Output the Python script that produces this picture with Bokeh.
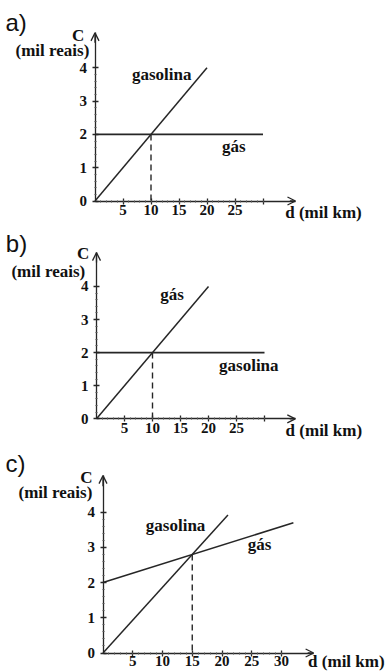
from bokeh.plotting import figure
from bokeh.models import LinearAxis, FixedTicker, Arrow, OpenHead, Range1d, Label
from bokeh.layouts import column
from bokeh.embed import file_html
from bokeh.resources import INLINE

# ---------------- data ----------------
y_ticks = [0, 1, 2, 3, 4]
x_ticks = [5, 10, 15, 20, 25, 30]
x_labels_ab = {30: ""}
x_labels_c = {}

# panel a)
a_gasolina_d = [0, 20]
a_gasolina_c = [0, 4]
a_gas_d = [0, 30]
a_gas_c = [2, 2]
a_cross_d, a_cross_c = 10, 2

# panel b)
b_gas_d = [0, 20]
b_gas_c = [0, 4]
b_gasolina_d = [0, 30]
b_gasolina_c = [2, 2]
b_cross_d, b_cross_c = 10, 2

# panel c)
c_gasolina_d = [0, 21]
c_gasolina_c = [0, 3.92]
c_gas_d = [0, 32]
c_gas_c = [2, 3.7]
c_cross_d, c_cross_c = 15, 2.8

# ---------------- styling ----------------
W = 387
LINE = "#262626"
TXT = "#111111"
SERIF = "Liberation Serif"


def make_panel(h, ox, oy, sx, sy):
    p = figure(width=W, height=h,
               x_range=Range1d(-ox / sx, (W - ox) / sx),
               y_range=Range1d(-(h - oy) / sy, oy / sy),
               x_axis_type=None, y_axis_type=None,
               toolbar_location=None, output_backend="svg",
               min_border=0)
    p.outline_line_color = None
    p.background_fill_color = "white"
    p.border_fill_color = "white"
    return p


def style_axis(ax):
    ax.axis_line_color = LINE
    ax.axis_line_width = 1.3
    ax.major_tick_line_color = LINE
    ax.major_tick_line_width = 1.3
    ax.major_tick_in = 3
    ax.major_tick_out = 3
    ax.minor_tick_line_color = "#555555"
    ax.minor_tick_line_width = 1
    ax.minor_tick_in = 1
    ax.minor_tick_out = 1
    ax.major_label_text_font = SERIF
    ax.major_label_text_font_style = "bold"
    ax.major_label_text_font_size = "15px"
    ax.major_label_text_color = TXT


def add_axes(p, xlabels, xmax, ymax, xstandoff):
    xa = LinearAxis(fixed_location=0, bounds=(0, xmax),
                    ticker=FixedTicker(ticks=x_ticks,
                                       minor_ticks=list(range(1, 31))))
    xa.major_label_overrides = xlabels
    style_axis(xa)
    xa.major_label_standoff = xstandoff
    p.add_layout(xa, "below")

    ya = LinearAxis(fixed_location=0, bounds=(0, ymax),
                    ticker=FixedTicker(ticks=y_ticks,
                                       minor_ticks=[i / 5 for i in range(1, 20) if i % 5]))
    style_axis(ya)
    ya.major_label_standoff = 5
    p.add_layout(ya, "left")

    p.add_layout(Arrow(end=OpenHead(size=8, line_width=1.3, line_color=LINE),
                       x_start=xmax - 1, y_start=0, x_end=xmax, y_end=0,
                       line_width=1.3, line_color=LINE))
    p.add_layout(Arrow(end=OpenHead(size=8, line_width=1.3, line_color=LINE),
                       x_start=0, y_start=ymax - 0.3, x_end=0, y_end=ymax,
                       line_width=1.3, line_color=LINE))


def txt(p, x, y, s, size="17px", font=SERIF, style="bold", align="center"):
    p.add_layout(Label(x=x, y=y, text=s, text_font=font, text_font_style=style,
                       text_font_size=size, text_color=TXT,
                       text_align=align, text_baseline="middle"))


def draw_lines(p, d1, c1, d2, c2, cd, cc):
    p.line(d1, c1, line_color=LINE, line_width=1.5)
    p.line(d2, c2, line_color=LINE, line_width=1.6)
    p.line([cd, cd], [cc, 0], line_color=LINE, line_width=1.4, line_dash="6 4")


# ---------- a) ----------
pa = make_panel(225, 94.5, 200.5, 5.6, 33.3)
add_axes(pa, x_labels_ab, 35.8, 5.05, 1)
draw_lines(pa, a_gasolina_d, a_gasolina_c, a_gas_d, a_gas_c, a_cross_d, a_cross_c)
txt(pa, -16.0, 5.36, "a)", size="24px", font="Liberation Sans", style="normal", align="left")
txt(pa, -3.0, 4.97, "C")
txt(pa, -7.6, 4.52, "(mil reais)")
txt(pa, 11.9, 3.81, "gasolina")
txt(pa, 24.8, 1.65, "gás")
txt(pa, 40.8, -0.35, "d (mil km)")

# ---------- b) ----------
pb = make_panel(215, 96, 193.3, 5.6, 33.1)
add_axes(pb, x_labels_ab, 35.5, 5.02, 1)
draw_lines(pb, b_gas_d, b_gas_c, b_gasolina_d, b_gasolina_c, b_cross_d, b_cross_c)
txt(pb, -16.2, 5.3, "b)", size="24px", font="Liberation Sans", style="normal", align="left")
txt(pb, -2.4, 4.99, "C")
txt(pb, -8.6, 4.45, "(mil reais)")
txt(pb, 13.5, 3.75, "gás")
txt(pb, 27.2, 1.61, "gasolina")
txt(pb, 40.6, -0.35, "d (mil km)")

# ---------- c) ----------
pc = make_panel(232, 102.5, 212.5, 5.95, 35.2)
add_axes(pc, x_labels_c, 35.4, 5.04, 0)
draw_lines(pc, c_gasolina_d, c_gasolina_c, c_gas_d, c_gas_c, c_cross_d, c_cross_c)
txt(pc, -16.4, 5.38, "c)", size="24px", font="Liberation Sans", style="normal", align="left")
txt(pc, -2.8, 4.99, "C")
txt(pc, -8.0, 4.56, "(mil reais)")
txt(pc, 12.2, 3.62, "gasolina")
txt(pc, 26.3, 3.08, "gás")
txt(pc, 40.9, -0.24, "d (mil km)")

layout = column(pa, pb, pc, spacing=0)
open("out.html", "w").write(file_html(layout, INLINE))
